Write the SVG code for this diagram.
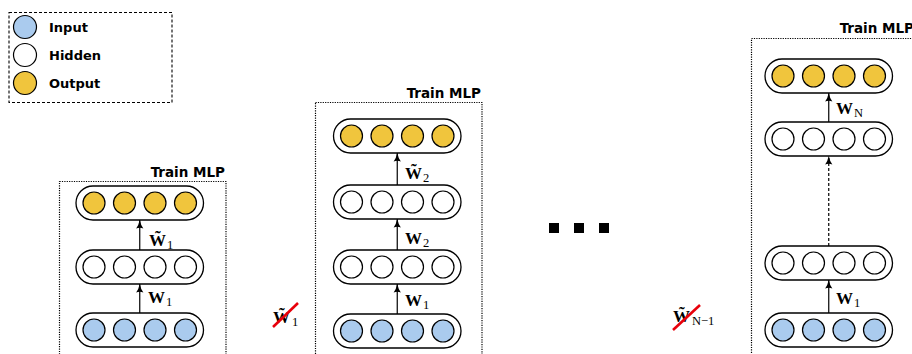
<svg xmlns="http://www.w3.org/2000/svg" width="912" height="354" viewBox="0 0 912 354">
<defs>
<style>
.pill{fill:#fff;stroke:#000;stroke-width:1.3}
.in{fill:#aacbee;stroke:#000;stroke-width:1.2}
.hid{fill:#fff;stroke:#000;stroke-width:1.2}
.out{fill:#f0c53d;stroke:#000;stroke-width:1.2}
.box{fill:none;stroke:#000;stroke-width:1.2;stroke-dasharray:1.2 1.2}
.leg{fill:none;stroke:#000;stroke-width:1.1;stroke-dasharray:3 2}
.ttl{font-family:"DejaVu Sans",sans-serif;font-weight:bold;font-size:13.5px;fill:#000}
.lt{font-family:"DejaVu Sans",sans-serif;font-weight:bold;font-size:13px;fill:#000}
.w{font-family:"Liberation Serif",serif;font-weight:bold;font-size:17px;fill:#000}
.sub{font-family:"Liberation Serif",serif;font-weight:normal;font-size:12.5px}
.arr{stroke:#000;stroke-width:1.2;fill:none;marker-end:url(#ah)}
.dash{stroke-dasharray:3 2}
.cross{stroke:#e8000b;stroke-width:2.6;stroke-linecap:butt}
</style>
<marker id="ah" viewBox="0 0 10 8" refX="9.5" refY="4" markerWidth="9" markerHeight="8" markerUnits="userSpaceOnUse" orient="auto">
<path d="M0,0 Q4,3 10,4 Q4,5 0,8 Q2,4 0,0 z" fill="#000"/>
</marker>
</defs>

<!-- Legend -->
<g id="legend">
<rect class="leg" x="9" y="12.5" width="163" height="90"/>
<circle class="in" cx="25" cy="27" r="11.5"/>
<text class="lt" x="49" y="32">Input</text>
<circle class="hid" cx="25" cy="55" r="11.5"/>
<text class="lt" x="49" y="60">Hidden</text>
<circle class="out" cx="25" cy="83" r="11.5"/>
<text class="lt" x="49" y="88">Output</text>
</g>

<!-- Panel 1 -->
<g id="panel1">
<rect class="box" x="59.5" y="181.5" width="166.5" height="190"/>
<text class="ttl" x="225" y="177" text-anchor="end">Train MLP</text>
</g>
<g id="p1-out" transform="translate(94,203)">
<rect class="pill" x="-18" y="-17" width="127.5" height="34" rx="17"/>
<circle class="out" cx="0" r="11"/><circle class="out" cx="30.5" r="11"/><circle class="out" cx="61" r="11"/><circle class="out" cx="91.5" r="11"/>
</g>
<g id="p1-hid" transform="translate(94,267)">
<rect class="pill" x="-18" y="-17" width="127.5" height="34" rx="17"/>
<circle class="hid" cx="0" r="11"/><circle class="hid" cx="30.5" r="11"/><circle class="hid" cx="61" r="11"/><circle class="hid" cx="91.5" r="11"/>
</g>
<g id="p1-in" transform="translate(94,330)">
<rect class="pill" x="-18" y="-17" width="127.5" height="34" rx="17"/>
<circle class="in" cx="0" r="11"/><circle class="in" cx="30.5" r="11"/><circle class="in" cx="61" r="11"/><circle class="in" cx="91.5" r="11"/>
</g>

<!-- Panel 2 -->
<g id="panel2">
<rect class="box" x="315.5" y="102.5" width="166.5" height="270"/>
<text class="ttl" x="481" y="98" text-anchor="end">Train MLP</text>
</g>
<g id="p2-out" transform="translate(351.5,136)">
<rect class="pill" x="-18" y="-17" width="127.5" height="34" rx="17"/>
<circle class="out" cx="0" r="11"/><circle class="out" cx="30.5" r="11"/><circle class="out" cx="61" r="11"/><circle class="out" cx="91.5" r="11"/>
</g>
<g id="p2-hid2" transform="translate(351.5,202)">
<rect class="pill" x="-18" y="-17" width="127.5" height="34" rx="17"/>
<circle class="hid" cx="0" r="11"/><circle class="hid" cx="30.5" r="11"/><circle class="hid" cx="61" r="11"/><circle class="hid" cx="91.5" r="11"/>
</g>
<g id="p2-hid1" transform="translate(351.5,267)">
<rect class="pill" x="-18" y="-17" width="127.5" height="34" rx="17"/>
<circle class="hid" cx="0" r="11"/><circle class="hid" cx="30.5" r="11"/><circle class="hid" cx="61" r="11"/><circle class="hid" cx="91.5" r="11"/>
</g>
<g id="p2-in" transform="translate(351.5,331)">
<rect class="pill" x="-18" y="-17" width="127.5" height="34" rx="17"/>
<circle class="in" cx="0" r="11"/><circle class="in" cx="30.5" r="11"/><circle class="in" cx="61" r="11"/><circle class="in" cx="91.5" r="11"/>
</g>

<!-- Ellipsis -->
<g id="ellipsis">
<rect x="549" y="223" width="10" height="10" fill="#000"/>
<rect x="574" y="223" width="10" height="10" fill="#000"/>
<rect x="599" y="223" width="10" height="10" fill="#000"/>
</g>

<!-- Panel 3 -->
<g id="panel3">
<rect class="box" x="751.5" y="38.5" width="200" height="340"/>
<text class="ttl" x="914" y="33" text-anchor="end">Train MLP</text>
</g>
<g id="p3-out" transform="translate(783,76)">
<rect class="pill" x="-18" y="-17" width="127.5" height="34" rx="17"/>
<circle class="out" cx="0" r="11"/><circle class="out" cx="30.5" r="11"/><circle class="out" cx="61" r="11"/><circle class="out" cx="91.5" r="11"/>
</g>
<g id="p3-hidN" transform="translate(783,139)">
<rect class="pill" x="-18" y="-17" width="127.5" height="34" rx="17"/>
<circle class="hid" cx="0" r="11"/><circle class="hid" cx="30.5" r="11"/><circle class="hid" cx="61" r="11"/><circle class="hid" cx="91.5" r="11"/>
</g>
<g id="p3-hid1" transform="translate(783,263)">
<rect class="pill" x="-18" y="-17" width="127.5" height="34" rx="17"/>
<circle class="hid" cx="0" r="11"/><circle class="hid" cx="30.5" r="11"/><circle class="hid" cx="61" r="11"/><circle class="hid" cx="91.5" r="11"/>
</g>
<g id="p3-in" transform="translate(783,330)">
<rect class="pill" x="-18" y="-17" width="127.5" height="34" rx="17"/>
<circle class="in" cx="0" r="11"/><circle class="in" cx="30.5" r="11"/><circle class="in" cx="61" r="11"/><circle class="in" cx="91.5" r="11"/>
</g>

<!-- Connectors -->
<g id="connectors">
<line class="arr" x1="139.75" y1="313" x2="139.75" y2="284"/>
<line class="arr" x1="139.75" y1="250" x2="139.75" y2="220"/>
<line class="arr" x1="397.25" y1="314" x2="397.25" y2="284"/>
<line class="arr" x1="397.25" y1="250" x2="397.25" y2="219"/>
<line class="arr" x1="397.25" y1="185" x2="397.25" y2="153"/>
<line class="arr" x1="828.75" y1="313" x2="828.75" y2="280"/>
<line class="arr dash" x1="828.75" y1="246" x2="828.75" y2="156"/>
<line class="arr" x1="828.75" y1="122" x2="828.75" y2="93"/>
</g>

<!-- Labels -->
<g id="labels">
<text class="w" x="149" y="246">W̃<tspan class="sub" dx="1" dy="3">1</tspan></text>
<text class="w" x="148" y="303">W<tspan class="sub" dx="1" dy="3">1</tspan></text>

<text class="w" x="405" y="179">W̃<tspan class="sub" dx="1" dy="3">2</tspan></text>
<text class="w" x="405" y="244">W<tspan class="sub" dx="1" dy="3">2</tspan></text>
<text class="w" x="405" y="306">W<tspan class="sub" dx="1" dy="3">1</tspan></text>

<text class="w" x="836" y="114">W<tspan class="sub" dx="1" dy="3">N</tspan></text>
<text class="w" x="836" y="304">W<tspan class="sub" dx="1" dy="3">1</tspan></text>
</g>

<!-- Crossed-out weights -->
<g id="crossed1">
<text class="w" x="273" y="323">W̃<tspan class="sub" dx="2" dy="3">1</tspan></text>
<line class="cross" x1="273" y1="327" x2="298" y2="303"/>
</g>
<g id="crossedN">
<text class="w" x="673" y="322">W̃<tspan class="sub" dx="2" dy="3">N−1</tspan></text>
<line class="cross" x1="673" y1="330" x2="700" y2="305"/>
</g>
</svg>
